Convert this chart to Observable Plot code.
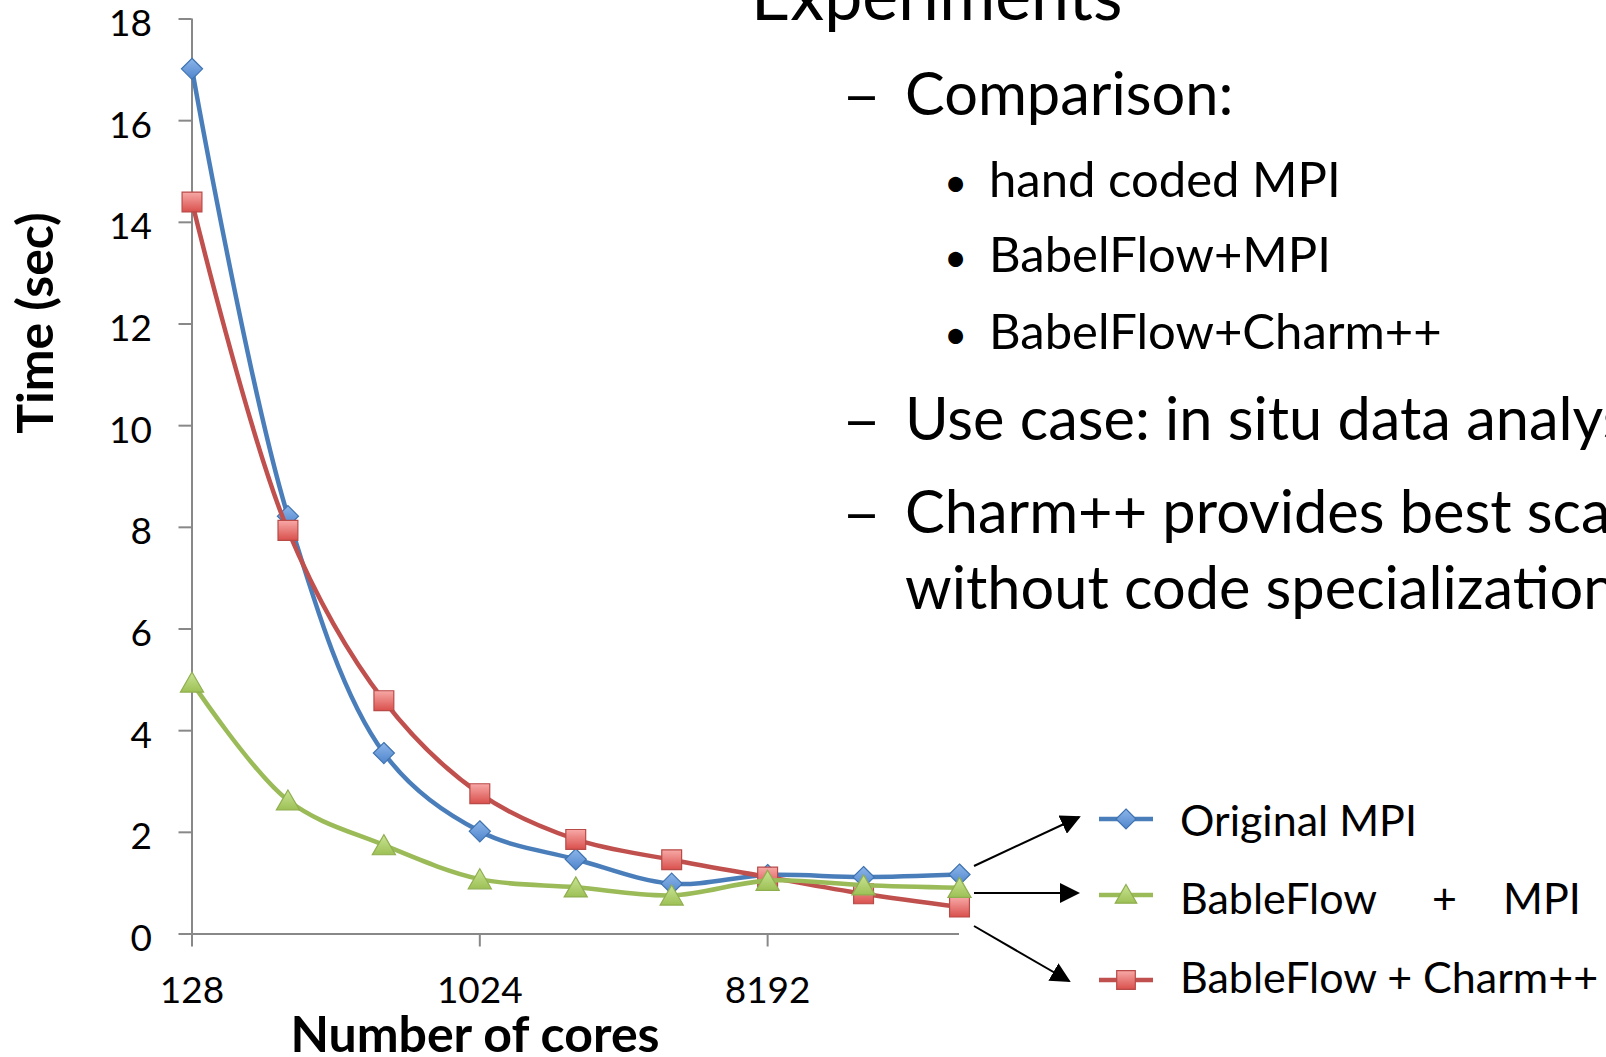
<!DOCTYPE html>
<html>
<head>
<meta charset="utf-8">
<script src="https://cdn.jsdelivr.net/npm/d3@7"></script>
<script src="https://cdn.jsdelivr.net/npm/@observablehq/plot@0.6"></script>
<style>
  html, body { margin: 0; padding: 0; background: white; overflow: hidden; }
  #chart svg { overflow: hidden; }
</style>
</head>
<body>
<div id="chart"></div>
<script>
// ---- data ----
const cores = [128, 256, 512, 1024, 2048, 4096, 8192, 16384, 32768];
const originalMPI = [17.02, 8.22, 3.56, 2.02, 1.47, 0.99, 1.16, 1.12, 1.17];
const bableFlowMPI = [4.95, 2.63, 1.75, 1.08, 0.92, 0.76, 1.05, 0.96, 0.91];
const bableFlowCharm = [14.40, 7.94, 4.59, 2.76, 1.86, 1.46, 1.12, 0.79, 0.53];
const seriesNames = ["Original MPI", "BableFlow + MPI", "BableFlow + Charm++"];
const yTicks = [0, 2, 4, 6, 8, 10, 12, 14, 16, 18];
const xTicks = [128, 1024, 8192];
const xLabel = "Number of cores";
const yLabel = "Time (sec)";
const heading = "Experiments";
const bullets = [
  {level: 1, text: "Comparison:"},
  {level: 2, text: "hand coded MPI"},
  {level: 2, text: "BabelFlow+MPI"},
  {level: 2, text: "BabelFlow+Charm++"},
  {level: 1, text: "Use case: in situ data analysis"},
  {level: 1, text: "Charm++ provides best scalability"},
  {level: 0, text: "without code specialization"}
];

const rows = (vals) => cores.map((c, i) => ({cores: c, time: vals[i]}));
const blue = rows(originalMPI), green = rows(bableFlowMPI), red = rows(bableFlowCharm);

const C = {
  blueLine: "#4A7EBB", blueStroke: "#3F73B0",
  redLine: "#C0504D", redStroke: "#B84A47",
  greenLine: "#9BBB59", greenStroke: "#8FAE4F",
  axis: "#888888"
};

const W = 1606, H = 1057;
const plot = Plot.plot({
  width: W, height: H,
  marginLeft: 191.5, marginRight: 647, marginTop: 18.5, marginBottom: 123.5,
  style: {fontFamily: "Lato, 'Open Sans', sans-serif", background: "white", color: "black"},
  x: {type: "log", base: 2, domain: [128, 32768]},
  y: {domain: [0, 18]},
  marks: [
    Plot.ruleY([0], {stroke: C.axis, strokeWidth: 2}),
    Plot.ruleX([128], {stroke: C.axis, strokeWidth: 2}),
    // y tick marks
    Plot.axisY({ticks: yTicks, tickSize: 13, stroke: C.axis, strokeWidth: 2, tickFormat: () => "", label: null}),
    // y tick labels (slightly below the tick, as in the reference)
    Plot.axisY({ticks: yTicks, tickSize: 0, tickPadding: 40, dy: 5, fill: "black", fontSize: 37, label: null}),
    Plot.axisX({ticks: xTicks, tickSize: 13, tickPadding: 30, stroke: C.axis, strokeWidth: 2, fill: "black", fontSize: 37, label: null, tickFormat: d => String(d)}),
    Plot.line(blue, {x: "cores", y: "time", stroke: C.blueLine, strokeWidth: 4.5, curve: "catmull-rom"}),
    Plot.dot(blue, {x: "cores", y: "time", symbol: "diamond2", r: 9.5, fill: "url(#gBlue)", stroke: C.blueStroke, strokeWidth: 1.2}),
    Plot.line(red, {x: "cores", y: "time", stroke: C.redLine, strokeWidth: 4.5, curve: "catmull-rom"}),
    Plot.dot(red, {x: "cores", y: "time", symbol: "square", r: 11.2, fill: "url(#gRed)", stroke: C.redStroke, strokeWidth: 1.2}),
    Plot.line(green, {x: "cores", y: "time", stroke: C.greenLine, strokeWidth: 4.5, curve: "catmull-rom"}),
    Plot.dot(green, {x: "cores", y: "time", symbol: "triangle", r: 8.6, dy: 3, fill: "url(#gGreen)", stroke: C.greenStroke, strokeWidth: 1.2})
  ]
});
document.getElementById("chart").appendChild(plot);

const svg = d3.select(plot);
const defs = svg.insert("defs", ":first-child");
function grad(id, c0, c1) {
  const g = defs.append("linearGradient").attr("id", id).attr("x1", 0).attr("y1", 0).attr("x2", 0).attr("y2", 1);
  g.append("stop").attr("offset", "0%").attr("stop-color", c0);
  g.append("stop").attr("offset", "100%").attr("stop-color", c1);
}
grad("gBlue", "#8DB6EA", "#4F85CC");
grad("gRed", "#F7A9A7", "#D9504C");
grad("gGreen", "#C9E494", "#9DC055");
defs.append("marker").attr("id", "arrowHead").attr("viewBox", "0 0 10 10")
  .attr("refX", 9).attr("refY", 5).attr("markerWidth", 20).attr("markerHeight", 20)
  .attr("markerUnits", "userSpaceOnUse").attr("orient", "auto")
  .append("path").attr("d", "M0,0 L10,5 L0,10 Z").attr("fill", "black");

const font = "Lato, 'Open Sans', sans-serif";
const ann = svg.append("g").attr("font-family", font).attr("fill", "black").attr("text-anchor", "start");

// axis titles
ann.append("text").attr("transform", "translate(35,323) rotate(-90)")
  .attr("text-anchor", "middle").attr("dy", "0.36em")
  .attr("font-size", 50).attr("font-weight", "bold").text(yLabel);
ann.append("text").attr("x", 475).attr("y", 1052)
  .attr("text-anchor", "middle").attr("font-size", 50).attr("font-weight", "bold").text(xLabel);

// slide text
ann.append("text").attr("x", 751).attr("y", 20).attr("font-size", 68).text(heading);
const baselines = [115, 197, 272, 349, 440, 533, 609];
bullets.forEach((b, i) => {
  const y = baselines[i];
  if (b.level === 1) {
    ann.append("text").attr("x", 842).attr("y", y).attr("font-size", 59)
      .attr("textLength", 39).attr("lengthAdjust", "spacingAndGlyphs").text("–");
    ann.append("text").attr("x", 905).attr("y", y).attr("font-size", 59.5).text(b.text);
  } else if (b.level === 2) {
    ann.append("text").attr("x", 944).attr("y", y).attr("font-size", 40).text("•");
    ann.append("text").attr("x", 989).attr("y", y).attr("font-size", 49).text(b.text);
  } else {
    ann.append("text").attr("x", 905).attr("y", y).attr("font-size", 59.5).text(b.text);
  }
});

// arrows
const arrows = [[974, 866, 1079, 817], [974, 893, 1078, 893], [974, 926, 1069, 981]];
arrows.forEach(([x1, y1, x2, y2]) => {
  ann.append("line").attr("x1", x1).attr("y1", y1).attr("x2", x2).attr("y2", y2)
    .attr("stroke", "black").attr("stroke-width", 2).attr("marker-end", "url(#arrowHead)");
});

// legend
const legendY = [819, 895, 980];
const legendSpec = [
  {line: C.blueLine, sym: d3.symbolDiamond2, size: Math.PI * 9 * 9, fill: "url(#gBlue)", stroke: C.blueStroke, dy: 0},
  {line: C.greenLine, sym: d3.symbolTriangle, size: Math.PI * 8 * 8, fill: "url(#gGreen)", stroke: C.greenStroke, dy: 2},
  {line: C.redLine, sym: d3.symbolSquare, size: Math.PI * 10.5 * 10.5, fill: "url(#gRed)", stroke: C.redStroke, dy: 0}
];
legendSpec.forEach((s, i) => {
  const y = legendY[i];
  ann.append("line").attr("x1", 1099).attr("x2", 1153).attr("y1", y).attr("y2", y)
    .attr("stroke", s.line).attr("stroke-width", 4.5);
  ann.append("path").attr("d", d3.symbol(s.sym, s.size)()).attr("transform", `translate(1126,${y + s.dy})`)
    .attr("fill", s.fill).attr("stroke", s.stroke).attr("stroke-width", 1.2);
});
ann.append("text").attr("x", 1180).attr("y", 836).attr("font-size", 43).text(seriesNames[0]);
const t2 = ann.append("text").attr("y", 914).attr("font-size", 43);
const parts = seriesNames[1].split(" ");
[1180, 1432, 1503].forEach((x, j) => t2.append("tspan").attr("x", x).text(parts[j]));
ann.append("text").attr("x", 1180).attr("y", 993).attr("font-size", 43).text(seriesNames[2]);
</script>
</body>
</html>
